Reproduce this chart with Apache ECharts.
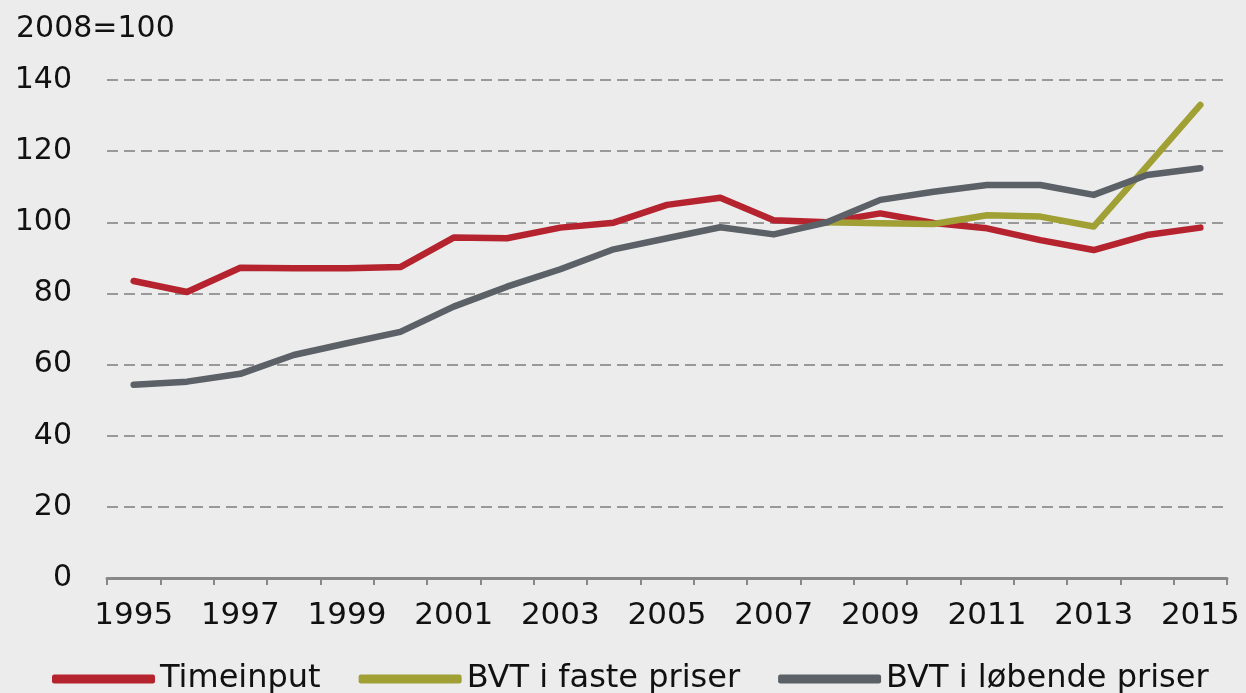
<!DOCTYPE html>
<html>
<head>
<meta charset="utf-8">
<script src="https://cdn.jsdelivr.net/npm/echarts@6/dist/echarts.min.js"></script>
<style>
html,body{margin:0;padding:0;background:#ececec;}
#c{width:1246px;height:693px;}
</style>
</head>
<body>
<div id="c"></div>
<script>
const years = ['1995','1996','1997','1998','1999','2000','2001','2002','2003','2004','2005','2006','2007','2008','2009','2010','2011','2012','2013','2014','2015'];
const timeinput = [83.5,80.4,87.2,87.1,87.1,87.4,95.7,95.5,98.5,99.9,104.9,106.9,100.6,100.0,102.5,99.8,98.3,95.0,92.2,96.4,98.5];
const bvtFaste = [null,null,null,null,null,null,null,null,null,null,null,null,null,100.0,99.7,99.5,102.0,101.6,98.8,115.8,133.0];
const bvtLobende = [54.3,55.2,57.4,62.7,66.0,69.2,76.3,81.9,86.8,92.4,95.5,98.6,96.6,100.0,106.3,108.6,110.5,110.5,107.7,113.3,115.2];
const yTicks = {min:0, max:140, interval:20};
const unitLabel = '2008=100';
const names = ['Timeinput','BVT i faste priser','BVT i løbende priser'];
const colors = ['#b5232f','#a0a034','#5b6167'];

const font = 'DejaVu Sans';
const chart = echarts.init(document.getElementById('c'), null, {renderer:'canvas'});
chart.setOption({
  backgroundColor:'#ececec',
  animation:false,
  textStyle:{fontFamily:font},
  title:{text:unitLabel,left:11,top:9,textStyle:{fontSize:30,fontWeight:'normal',color:'#111',fontFamily:font}},
  legend:{
    left:47, top:658, itemGap:38, itemWidth:103, itemHeight:9, icon:'roundRect',
    textStyle:{fontSize:32,color:'#111',fontFamily:font,padding:[0,0,0,0]},
    data:names
  },
  grid:{left:107,right:19,top:80,bottom:115},
  xAxis:{
    type:'category', data:years, boundaryGap:true,
    axisLine:{lineStyle:{color:'#888',width:3}},
    axisTick:{show:true,interval:0,length:7,lineStyle:{color:'#888',width:2}},
    axisLabel:{interval:1,margin:22,fontSize:31,color:'#111',fontFamily:font},
    splitLine:{show:false}
  },
  yAxis:{
    type:'value', min:yTicks.min, max:yTicks.max, interval:yTicks.interval,
    axisLine:{show:false}, axisTick:{show:false},
    axisLabel:{margin:35,fontSize:30,color:'#111',fontFamily:font},
    splitLine:{show:true,lineStyle:{color:'#999',width:2,type:[11,6]}}
  },
  series:[
    {name:names[0],type:'line',data:timeinput,symbol:'none',color:colors[0],lineStyle:{width:6.5,color:colors[0],cap:'round',join:'round'}},
    {name:names[1],type:'line',data:bvtFaste,symbol:'none',color:colors[1],connectNulls:false,lineStyle:{width:6.5,color:colors[1],cap:'round',join:'round'}},
    {name:names[2],type:'line',data:bvtLobende,symbol:'none',color:colors[2],lineStyle:{width:6.5,color:colors[2],cap:'round',join:'round'}}
  ]
});
</script>
</body>
</html>
